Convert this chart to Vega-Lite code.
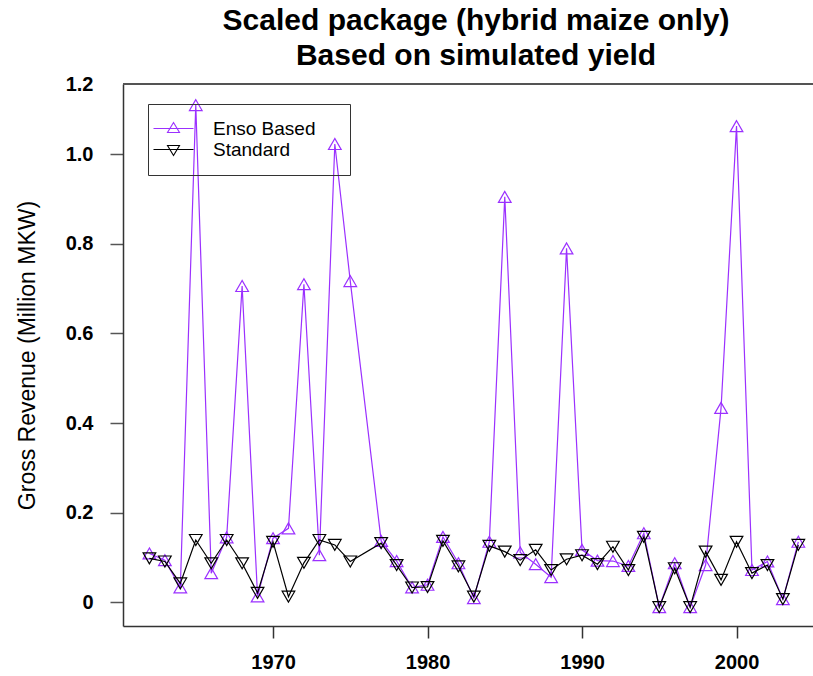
{
  "$schema": "https://vega.github.io/schema/vega-lite/v6.json",
  "autosize": "none",
  "width": 690,
  "height": 542,
  "padding": {"left": 123, "top": 84, "right": 0, "bottom": 50},
  "background": "white",
  "config": {"view": {"stroke": null}},
  "title": {
    "text": ["Scaled package (hybrid maize only)", "Based on simulated yield"],
    "font": "Liberation Sans",
    "fontSize": 30,
    "fontWeight": "bold",
    "color": "black",
    "lineHeight": 35,
    "anchor": "middle",
    "dx": 8,
    "offset": 3
  },
  "data": {
    "values": [
      {"year": 1962, "series": "Enso Based", "value": 0.109},
      {"year": 1963, "series": "Enso Based", "value": 0.094},
      {"year": 1964, "series": "Enso Based", "value": 0.033},
      {"year": 1965, "series": "Enso Based", "value": 1.11},
      {"year": 1966, "series": "Enso Based", "value": 0.065},
      {"year": 1967, "series": "Enso Based", "value": 0.145},
      {"year": 1968, "series": "Enso Based", "value": 0.706},
      {"year": 1969, "series": "Enso Based", "value": 0.013},
      {"year": 1970, "series": "Enso Based", "value": 0.143},
      {"year": 1971, "series": "Enso Based", "value": 0.165},
      {"year": 1972, "series": "Enso Based", "value": 0.71},
      {"year": 1973, "series": "Enso Based", "value": 0.105},
      {"year": 1974, "series": "Enso Based", "value": 1.023},
      {"year": 1975, "series": "Enso Based", "value": 0.717},
      {"year": 1977, "series": "Enso Based", "value": 0.137},
      {"year": 1978, "series": "Enso Based", "value": 0.092},
      {"year": 1979, "series": "Enso Based", "value": 0.033},
      {"year": 1980, "series": "Enso Based", "value": 0.039},
      {"year": 1981, "series": "Enso Based", "value": 0.146},
      {"year": 1982, "series": "Enso Based", "value": 0.087},
      {"year": 1983, "series": "Enso Based", "value": 0.009},
      {"year": 1984, "series": "Enso Based", "value": 0.135},
      {"year": 1985, "series": "Enso Based", "value": 0.905},
      {"year": 1986, "series": "Enso Based", "value": 0.111},
      {"year": 1987, "series": "Enso Based", "value": 0.085},
      {"year": 1988, "series": "Enso Based", "value": 0.056},
      {"year": 1989, "series": "Enso Based", "value": 0.79},
      {"year": 1990, "series": "Enso Based", "value": 0.117},
      {"year": 1991, "series": "Enso Based", "value": 0.093},
      {"year": 1992, "series": "Enso Based", "value": 0.092},
      {"year": 1993, "series": "Enso Based", "value": 0.081},
      {"year": 1994, "series": "Enso Based", "value": 0.154},
      {"year": 1995, "series": "Enso Based", "value": -0.011},
      {"year": 1996, "series": "Enso Based", "value": 0.087},
      {"year": 1997, "series": "Enso Based", "value": -0.011},
      {"year": 1998, "series": "Enso Based", "value": 0.083},
      {"year": 1999, "series": "Enso Based", "value": 0.434},
      {"year": 2000, "series": "Enso Based", "value": 1.063},
      {"year": 2001, "series": "Enso Based", "value": 0.072},
      {"year": 2002, "series": "Enso Based", "value": 0.091},
      {"year": 2003, "series": "Enso Based", "value": 0.007},
      {"year": 2004, "series": "Enso Based", "value": 0.135},
      {"year": 1962, "series": "Standard", "value": 0.098},
      {"year": 1963, "series": "Standard", "value": 0.091},
      {"year": 1964, "series": "Standard", "value": 0.042},
      {"year": 1965, "series": "Standard", "value": 0.139},
      {"year": 1966, "series": "Standard", "value": 0.087},
      {"year": 1967, "series": "Standard", "value": 0.139},
      {"year": 1968, "series": "Standard", "value": 0.087},
      {"year": 1969, "series": "Standard", "value": 0.021},
      {"year": 1970, "series": "Standard", "value": 0.135},
      {"year": 1971, "series": "Standard", "value": 0.0125},
      {"year": 1972, "series": "Standard", "value": 0.088},
      {"year": 1973, "series": "Standard", "value": 0.139},
      {"year": 1974, "series": "Standard", "value": 0.128},
      {"year": 1975, "series": "Standard", "value": 0.091},
      {"year": 1977, "series": "Standard", "value": 0.132},
      {"year": 1978, "series": "Standard", "value": 0.083},
      {"year": 1979, "series": "Standard", "value": 0.033},
      {"year": 1980, "series": "Standard", "value": 0.034},
      {"year": 1981, "series": "Standard", "value": 0.137},
      {"year": 1982, "series": "Standard", "value": 0.080},
      {"year": 1983, "series": "Standard", "value": 0.0125},
      {"year": 1984, "series": "Standard", "value": 0.126},
      {"year": 1985, "series": "Standard", "value": 0.113},
      {"year": 1986, "series": "Standard", "value": 0.094},
      {"year": 1987, "series": "Standard", "value": 0.117},
      {"year": 1988, "series": "Standard", "value": 0.072},
      {"year": 1989, "series": "Standard", "value": 0.096},
      {"year": 1990, "series": "Standard", "value": 0.105},
      {"year": 1991, "series": "Standard", "value": 0.085},
      {"year": 1992, "series": "Standard", "value": 0.124},
      {"year": 1993, "series": "Standard", "value": 0.072},
      {"year": 1994, "series": "Standard", "value": 0.146},
      {"year": 1995, "series": "Standard", "value": -0.011},
      {"year": 1996, "series": "Standard", "value": 0.076},
      {"year": 1997, "series": "Standard", "value": -0.011},
      {"year": 1998, "series": "Standard", "value": 0.113},
      {"year": 1999, "series": "Standard", "value": 0.050},
      {"year": 2000, "series": "Standard", "value": 0.135},
      {"year": 2001, "series": "Standard", "value": 0.065},
      {"year": 2002, "series": "Standard", "value": 0.083},
      {"year": 2003, "series": "Standard", "value": 0.007},
      {"year": 2004, "series": "Standard", "value": 0.128}
    ]
  },
  "encoding": {
    "x": {
      "field": "year",
      "type": "quantitative",
      "scale": {"domain": [1960.29, 2004.95], "nice": false, "zero": false},
      "axis": {
        "title": null,
        "values": [1970, 1980, 1990, 2000],
        "format": "d",
        "grid": false,
        "domainColor": "#333",
        "domainWidth": 1.5,
        "tickColor": "#333",
        "tickWidth": 1.5,
        "tickSize": 12,
        "labelPadding": 14,
        "labelFont": "Liberation Sans",
        "labelFontSize": 20,
        "labelFontWeight": "bold",
        "labelColor": "black",
        "labelFlush": false
      }
    },
    "y": {
      "field": "value",
      "type": "quantitative",
      "scale": {"domain": [-0.053, 1.157], "nice": false, "zero": false},
      "axis": {
        "title": "Gross Revenue (Million MKW)",
        "titleFont": "Liberation Sans",
        "titleFontSize": 23,
        "titleFontWeight": "normal",
        "titleColor": "black",
        "titlePadding": 26,
        "values": [0, 0.2, 0.4, 0.6, 0.8, 1.0, 1.157],
        "labelExpr": "datum.value == 0 ? '0' : format(datum.value > 1.1 ? 1.2 : datum.value, '.1f')",
        "grid": false,
        "domainColor": "#333",
        "domainWidth": 1.5,
        "tickColor": {"condition": {"test": "datum.value > 1.1", "value": "transparent"}, "value": "#555"},
        "tickWidth": 1.5,
        "tickSize": 13,
        "labelPadding": 17,
        "labelFont": "Liberation Sans",
        "labelFontSize": 20,
        "labelFontWeight": "bold",
        "labelColor": "black",
        "labelFlush": false,
        "labelOverlap": false
      }
    },
    "color": {
      "field": "series",
      "type": "nominal",
      "scale": {"domain": ["Enso Based", "Standard"], "range": ["#9B30FF", "#000000"]},
      "legend": {
        "orient": "none",
        "legendX": 25,
        "legendY": 20,
        "title": "xx",
        "titleOrient": "right",
        "titleColor": "transparent",
        "titleFontSize": 12,
        "titlePadding": 6,
        "strokeColor": "#333",
        "padding": 15,
        "labelFont": "Liberation Sans",
        "labelFontSize": 19,
        "labelColor": "black",
        "symbolSize": 4,
        "symbolStrokeWidth": 1.1,
        "symbolOffset": 1,
        "labelOffset": 30,
        "rowPadding": 1
      }
    }
  },
  "layer": [
    {
      "mark": {"type": "rule", "color": "#555", "strokeWidth": 1.5},
      "encoding": {"y": {"datum": 1.157}, "x": null, "color": null}
    },
    {
      "transform": [{"filter": "false"}],
      "mark": {"type": "point", "filled": false, "strokeWidth": 1.1, "opacity": 1},
      "encoding": {
        "shape": {
          "field": "series",
          "type": "nominal",
          "scale": {"domain": ["Enso Based", "Standard"], "range": ["M-20,0L20,0M0,-6L6,4L-6,4Z", "M-20,0L20,0M0,6L6,-4L-6,-4Z"]}
        }
      }
    },
    {
      "transform": [{"filter": "datum.series === 'Enso Based'"}],
      "mark": {"type": "line", "strokeWidth": 1.2}
    },
    {
      "transform": [{"filter": "datum.series === 'Enso Based'"}],
      "mark": {"type": "point", "shape": "triangle-up", "filled": false, "size": 160, "strokeWidth": 1.2, "opacity": 1}
    },
    {
      "transform": [{"filter": "datum.series === 'Standard'"}],
      "mark": {"type": "line", "strokeWidth": 1.2}
    },
    {
      "transform": [{"filter": "datum.series === 'Standard'"}],
      "mark": {"type": "point", "shape": "triangle-down", "filled": false, "size": 160, "strokeWidth": 1.2, "opacity": 1}
    }
  ]
}
